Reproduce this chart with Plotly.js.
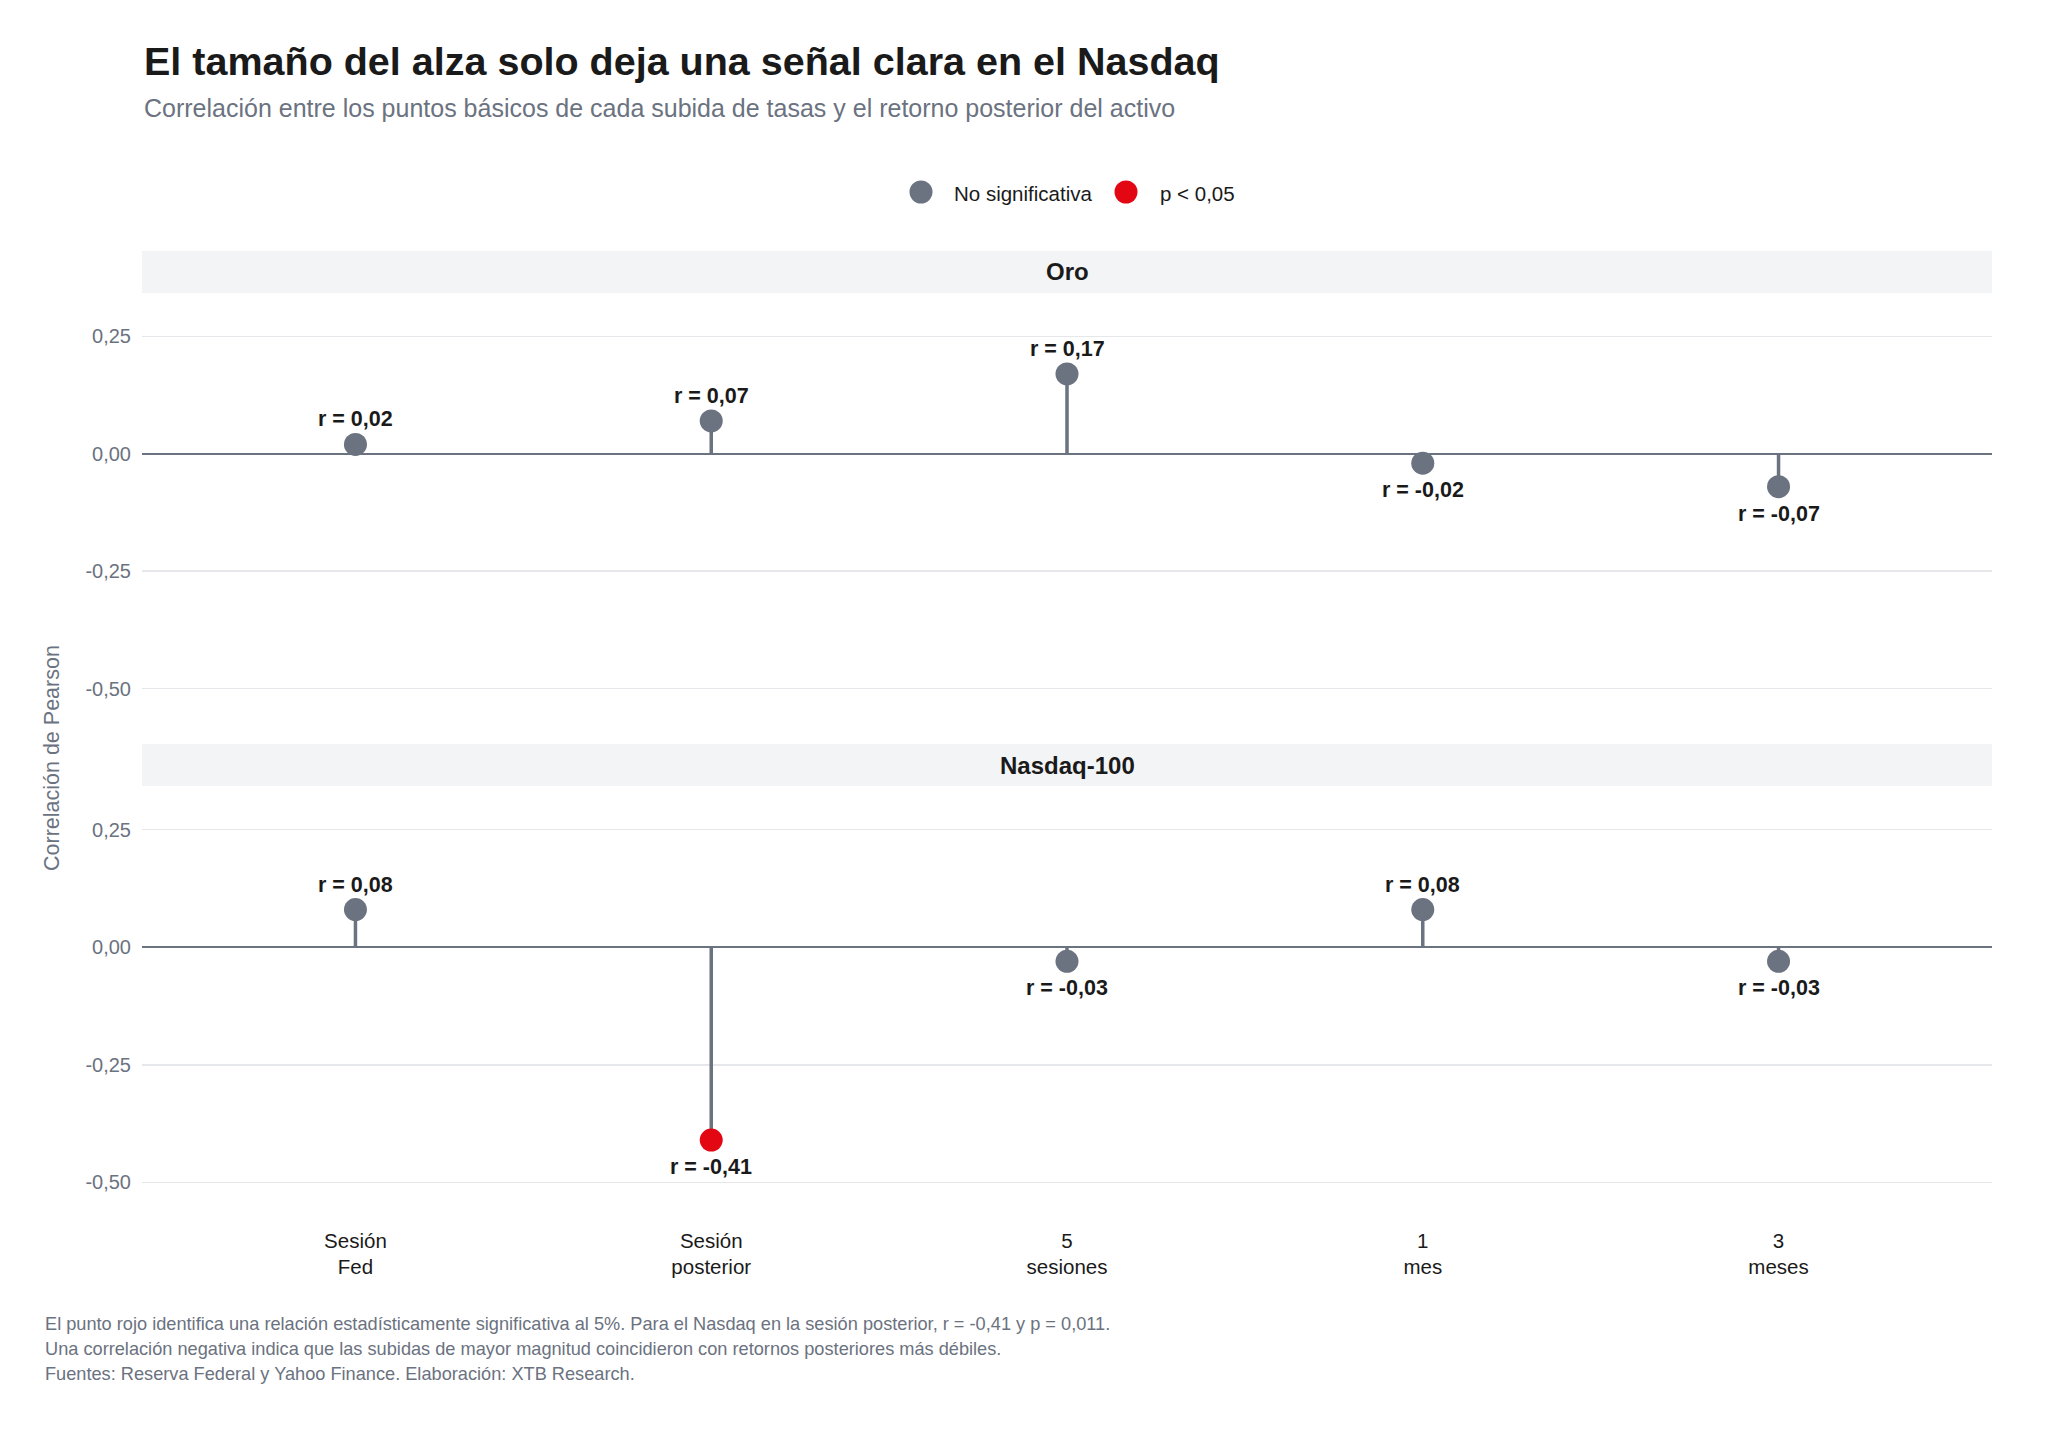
<!DOCTYPE html>
<html>
<head>
<meta charset="utf-8">
<script src="https://cdn.plot.ly/plotly-3.0.1.min.js"></script>
<style>
  html, body { margin: 0; padding: 0; background: #ffffff; }
  #chart { width: 2048px; height: 1449px; }
</style>
</head>
<body>
<div id="chart"></div>
<script>
// horizons (x categories)
const horizons = ["Sesión<br>Fed", "Sesión<br>posterior", "5<br>sesiones", "1<br>mes", "3<br>meses"];

// Pearson r per horizon
const oroR = [0.02, 0.07, 0.17, -0.02, -0.07];
const nasdaqR = [0.08, -0.41, -0.03, 0.08, -0.03];

// significant at 5%?
const oroSig = [false, false, false, false, false];
const nasdaqSig = [false, true, false, false, false];

const yTickVals = [-0.5, -0.25, 0, 0.25];
const yTickText = ["-0,50", "-0,25", "0,00", "0,25"];

const legendNames = ["No significativa", "p < 0,05"];

const GREY = "#6b7280";
const RED = "#e30613";
const INK = "#1a1a1a";
const FONT = "Liberation Sans, Arial, sans-serif";

const fmt = v => "r = " + v.toFixed(2).replace(".", ",");

function stemTrace(vals, xa, ya) {
  const x = [], y = [];
  vals.forEach((v, i) => { x.push(horizons[i], horizons[i], null); y.push(0, v, null); });
  return {
    x: x, y: y, xaxis: xa, yaxis: ya, type: "scatter", mode: "lines",
    line: { color: GREY, width: 3.5 }, hoverinfo: "skip", showlegend: false
  };
}

function pointTrace(vals, sig, wantSig, xa, ya) {
  const idx = vals.map((v, i) => i).filter(i => sig[i] === wantSig);
  return {
    x: idx.map(i => horizons[i]),
    y: idx.map(i => vals[i]),
    xaxis: xa, yaxis: ya, type: "scatter", mode: "markers",
    marker: { color: wantSig ? RED : GREY, size: 23 },
    name: wantSig ? legendNames[1] : legendNames[0],
    showlegend: false, cliponaxis: false
  };
}

// value labels above positive points, below negative ones
function valueLabels(vals, xa, ya) {
  return vals.map((v, i) => ({
    text: fmt(v), xref: xa, yref: ya, x: horizons[i], y: v,
    yshift: v >= 0 ? 25 : -27, xanchor: "center", yanchor: "middle", showarrow: false,
    font: { family: FONT, size: 21.5, color: INK, weight: "bold" }
  }));
}

const traces = [
  stemTrace(oroR, "x2", "y2"),
  stemTrace(nasdaqR, "x", "y"),
  pointTrace(oroR, oroSig, false, "x2", "y2"),
  pointTrace(nasdaqR, nasdaqSig, false, "x", "y"),
  pointTrace(nasdaqR, nasdaqSig, true, "x", "y")
];

// pixel helpers: plot area spans x=142..1992, y=251..1226 px
const py = px => (1226 - px) / 975;
const pxX = px => (px - 142) / 1850;

const yCommon = {
  range: [-0.5925, 0.3425], tickvals: yTickVals, ticktext: yTickText,
  showgrid: true, gridcolor: "#e5e7eb", gridwidth: 1.5,
  zeroline: true, zerolinecolor: GREY, zerolinewidth: 2,
  showline: false, ticks: "", fixedrange: true, ticklabelstandoff: 10,
  tickfont: { family: FONT, size: 20, color: GREY }
};
const xCommon = {
  type: "category", categoryorder: "array", categoryarray: horizons,
  range: [-0.6, 4.6], showgrid: false, zeroline: false, showline: false, ticks: ""
};

function legendDot(xpx, color) {
  return { type: "circle", xref: "paper", yref: "paper", xsizemode: "pixel", ysizemode: "pixel",
    xanchor: pxX(xpx), yanchor: py(192), x0: -11.5, x1: 11.5, y0: -11.5, y1: 11.5,
    fillcolor: color, line: { width: 0 } };
}
function legendText(xpx, text) {
  return { text: text, xref: "paper", yref: "paper", x: pxX(xpx), y: py(193), xanchor: "left",
    yanchor: "middle", showarrow: false, font: { family: FONT, size: 20.5, color: INK } };
}
function footLine(ypx, text) {
  return { text: text, xref: "paper", yref: "paper", x: pxX(43), y: py(ypx), xanchor: "left",
    yanchor: "middle", showarrow: false, font: { family: FONT, size: 18.2, color: GREY } };
}

const layout = {
  width: 2048, height: 1449,
  margin: { l: 142, r: 56, t: 251, b: 223 },
  paper_bgcolor: "#ffffff", plot_bgcolor: "#ffffff",
  font: { family: FONT },
  showlegend: false,
  xaxis: Object.assign({}, xCommon, {
    anchor: "y", domain: [0, 1],
    tickfont: { family: FONT, size: 20.5, color: INK }
  }),
  xaxis2: Object.assign({}, xCommon, { anchor: "y2", domain: [0, 1], showticklabels: false, matches: "x" }),
  yaxis: Object.assign({}, yCommon, { domain: [0, py(786)] }),
  yaxis2: Object.assign({}, yCommon, { domain: [py(732), py(293)] }),
  shapes: [
    { type: "rect", xref: "paper", yref: "paper", x0: 0, x1: 1, y0: py(293), y1: py(251),
      fillcolor: "#f3f4f6", line: { width: 0 }, layer: "below" },
    { type: "rect", xref: "paper", yref: "paper", x0: 0, x1: 1, y0: py(786), y1: py(744),
      fillcolor: "#f3f4f6", line: { width: 0 }, layer: "below" },
    legendDot(921, GREY),
    legendDot(1126, RED)
  ],
  annotations: [
    { text: "El tamaño del alza solo deja una señal clara en el Nasdaq", xref: "paper", yref: "paper",
      x: 0, y: py(61), xanchor: "left", yanchor: "middle", showarrow: false,
      font: { family: FONT, size: 39.5, color: INK, weight: "bold" } },
    { text: "Correlación entre los puntos básicos de cada subida de tasas y el retorno posterior del activo",
      xref: "paper", yref: "paper", x: 0, y: py(108), xanchor: "left", yanchor: "middle", showarrow: false,
      font: { family: FONT, size: 25, color: GREY } },
    legendText(952, legendNames[0]),
    legendText(1158, legendNames[1]),
    { text: "Oro", xref: "paper", yref: "paper", x: 0.5, y: py(272), xanchor: "center", yanchor: "middle",
      showarrow: false, font: { family: FONT, size: 24, color: INK, weight: "bold" } },
    { text: "Nasdaq-100", xref: "paper", yref: "paper", x: 0.5, y: py(765), xanchor: "center", yanchor: "middle",
      showarrow: false, font: { family: FONT, size: 24, color: INK, weight: "bold" } },
    { text: "Correlación de Pearson", xref: "paper", yref: "paper", x: pxX(52), y: py(758),
      xanchor: "center", yanchor: "middle", textangle: -90, showarrow: false,
      font: { family: FONT, size: 21.5, color: GREY } },
    footLine(1324, "El punto rojo identifica una relación estadísticamente significativa al 5%. Para el Nasdaq en la sesión posterior, r = -0,41 y p = 0,011."),
    footLine(1349, "Una correlación negativa indica que las subidas de mayor magnitud coincidieron con retornos posteriores más débiles."),
    footLine(1374, "Fuentes: Reserva Federal y Yahoo Finance. Elaboración: XTB Research.")
  ].concat(valueLabels(oroR, "x2", "y2"), valueLabels(nasdaqR, "x", "y"))
};

Plotly.newPlot("chart", traces, layout, { staticPlot: true, displayModeBar: false });
</script>
</body>
</html>
